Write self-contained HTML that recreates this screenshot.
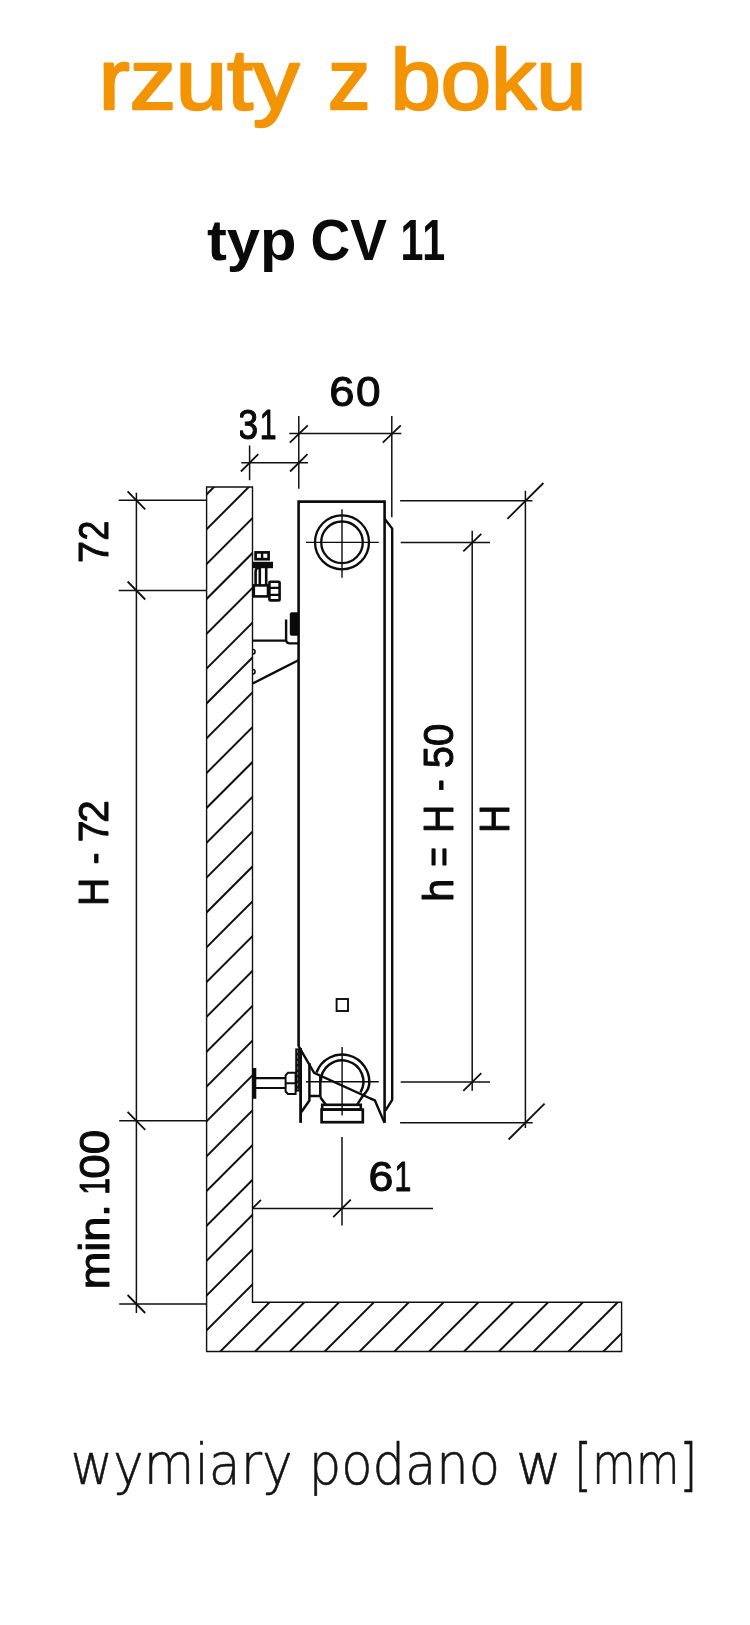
<!DOCTYPE html>
<html lang="pl"><head><meta charset="utf-8"><title>rzuty z boku - typ CV 11</title>
<style>html,body{margin:0;padding:0;background:#fff}svg{display:block}</style></head>
<body>
<svg width="750" height="1625" viewBox="0 0 750 1625">
<defs>
<clipPath id="wallclip"><path d="M206.6 487H252.5V1302.2H621.6V1351.5H206.6Z"/></clipPath>
<clipPath id="c31"><rect x="240" y="380" width="60" height="80"/></clipPath>
</defs>
<rect width="750" height="1625" fill="#fff"/>
<g opacity="0.999">
<g font-family='"Liberation Sans", sans-serif' font-size="85.5" font-weight="400" fill="#f39405" stroke="#f39405" stroke-width="2.5" stroke-linejoin="round"><text transform="translate(98.87 108.95) scale(1.0813 1)">rzuty</text> <text transform="translate(328.02 108.95) scale(0.9921 1)">z</text> <text transform="translate(390.57 108.95) scale(1.0565 1)">boku</text></g>
<g font-family='"Liberation Sans", sans-serif' font-size="57.4" font-weight="700" fill="#0a0a0a"><text transform="translate(206.96 260.20) scale(1.0410 1)">typ</text> <text transform="translate(310.48 260.20) scale(0.9584 1)">CV</text> <text transform="translate(400.60 260.20) scale(0.7200 1)">1</text> <text transform="translate(422.30 260.20) scale(0.7200 1)">1</text></g>
<g font-family='"DejaVu Sans Light", "DejaVu Sans", "Liberation Sans", sans-serif' font-size="57.6" font-weight="200" fill="#141414" stroke="#141414" stroke-width="0.6" stroke-linejoin="round"><text transform="translate(70.49 1483.50) scale(0.9025 1)">wymiary</text> <text transform="translate(308.67 1483.50) scale(0.8888 1)">podano</text> <text transform="translate(515.75 1483.50) scale(0.9800 1)">w</text> <text transform="translate(574.31 1483.50) scale(0.7821 1)">[mm]</text></g>
<g font-family='"Liberation Sans", sans-serif' font-size="42" font-weight="400" fill="#0a0a0a" stroke="#0a0a0a" stroke-width="1.0" stroke-linejoin="round"><text transform="translate(329.34 406.00) scale(1.0800 1)">6</text> <text transform="translate(356.05 406.00) scale(1.0524 1)">0</text></g>
<g clip-path="url(#c31)" font-family='"Liberation Sans", sans-serif' font-size="42" font-weight="400" fill="#0a0a0a" stroke="#0a0a0a" stroke-width="1.0" stroke-linejoin="round"><text transform="translate(237.72 439.40) scale(0.8762 1)">3</text> <text transform="translate(259.78 439.40) scale(0.7200 1)">1</text></g>
<g font-family='"Liberation Sans", sans-serif' font-size="42" font-weight="400" fill="#0a0a0a" stroke="#0a0a0a" stroke-width="1.0" stroke-linejoin="round"><text transform="translate(368.57 1191.00) scale(1.0650 1)">6</text> <text transform="translate(394.38 1191.00) scale(0.7200 1)">1</text></g>
<g font-family='"Liberation Sans", sans-serif' font-size="42" font-weight="400" fill="#0a0a0a" stroke="#0a0a0a" stroke-width="1.0" stroke-linejoin="round"><text transform="translate(108.40 562.89) rotate(-90) scale(0.9450 1)">7</text> <text transform="translate(108.40 540.60) rotate(-90) scale(0.8500 1)">2</text></g>
<g font-family='"Liberation Sans", sans-serif' font-size="42" font-weight="400" fill="#0a0a0a" stroke="#0a0a0a" stroke-width="1.0" stroke-linejoin="round"><text transform="translate(108.40 905.98) rotate(-90) scale(0.9280 1)">H</text> <text transform="translate(108.40 864.32) rotate(-90) scale(0.8250 1)">-</text> <text transform="translate(108.40 842.36) rotate(-90) scale(0.9300 1)">7</text> <text transform="translate(108.40 822.72) rotate(-90) scale(0.9600 1)">2</text></g>
<g font-family='"Liberation Sans", sans-serif' font-size="42" font-weight="400" fill="#0a0a0a" stroke="#0a0a0a" stroke-width="1.0" stroke-linejoin="round"><text transform="translate(109.20 1289.35) rotate(-90) scale(1.0743 1)">min.</text> <text transform="translate(109.20 1194.82) rotate(-90) scale(0.7200 1)">1</text> <text transform="translate(109.20 1178.65) rotate(-90) scale(1.0489 1)">00</text></g>
<g font-family='"Liberation Sans", sans-serif' font-size="42" font-weight="400" fill="#0a0a0a" stroke="#0a0a0a" stroke-width="1.0" stroke-linejoin="round"><text transform="translate(453.40 901.67) rotate(-90) scale(0.9842 1)">h</text> <text transform="translate(453.40 866.80) rotate(-90) scale(0.8000 1)">=</text> <text transform="translate(453.40 832.90) rotate(-90) scale(0.9320 1)">H</text> <text transform="translate(453.40 791.35) rotate(-90) scale(0.8500 1)">-</text> <text transform="translate(453.40 768.15) rotate(-90) scale(0.9533 1)">50</text></g>
<g font-family='"Liberation Sans", sans-serif' font-size="42" font-weight="400" fill="#0a0a0a" stroke="#0a0a0a" stroke-width="1.0" stroke-linejoin="round"><text transform="translate(509.20 832.90) rotate(-90) scale(0.9320 1)">H</text></g>
</g>
<g clip-path="url(#wallclip)"><path d="M150 551.0L700 1.0 M150 585.8L700 35.8 M150 620.7L700 70.7 M150 655.5L700 105.5 M150 690.3L700 140.3 M150 725.1L700 175.1 M150 760.0L700 210.0 M150 794.8L700 244.8 M150 829.6L700 279.6 M150 864.5L700 314.5 M150 899.3L700 349.3 M150 934.1L700 384.1 M150 969.0L700 419.0 M150 1003.8L700 453.8 M150 1038.6L700 488.6 M150 1073.4L700 523.4 M150 1108.3L700 558.3 M150 1143.1L700 593.1 M150 1177.9L700 627.9 M150 1212.8L700 662.8 M150 1247.6L700 697.6 M150 1282.4L700 732.4 M150 1317.3L700 767.3 M150 1352.1L700 802.1 M150 1386.9L700 836.9 M150 1421.8L700 871.8 M150 1456.6L700 906.6 M150 1491.4L700 941.4 M150 1526.2L700 976.2 M150 1561.1L700 1011.1 M150 1595.9L700 1045.9 M150 1630.7L700 1080.7 M150 1665.6L700 1115.6 M150 1700.4L700 1150.4 M150 1735.2L700 1185.2 M150 1770.0L700 1220.0 M150 1804.9L700 1254.9 M150 1839.7L700 1289.7" stroke="#111" stroke-width="2" fill="none"/></g>
<path d="M206.6 487H252.5V1302.2H621.6V1351.5H206.6Z" fill="none" stroke="#111" stroke-width="1.4"/>
<!-- dimension lines -->
<g stroke="#111" stroke-width="1.5" fill="none">
<path d="M289.3 433.4H401.3M298.8 416V488.8M391.8 416V517.2"/>
<path d="M241.3 462.8H308M249.6 445.5V480.2"/>
<path d="M136.4 492.7V1313M118.7 500.3H206.6M118.7 590.5H206.6M119.2 1120.8H206.6M119.2 1304H206.6"/>
<path d="M400.7 542.5H490M400.7 1081.9H490M472.2 530.7V1090.7"/>
<path d="M400.1 500.8H532.4M400.1 1122.7H532.7M525.4 490.7V1128"/>
<path d="M252.5 1208.4H433M342 1137V1225.6"/>
</g>
<g stroke="#111" stroke-width="1.8" fill="none">
<path d="M289.8 442.7L307.8 425.3M382.8 442.7L400.8 425.3"/>
<path d="M240.9 471.5L258.3 454.1M290.1 471.5L307.5 454.1"/>
<path d="M127.6 491.3L145.2 509.3M127.6 581.5L145.2 599.5M127.6 1111.8L145.2 1129.8M127.6 1295L145.2 1313"/>
<path d="M463.3 551.4L481.3 533.8M463.3 1090.8L481.3 1073.2"/>
<path d="M507.4 518.8L543.4 483M508.6 1139.5L544.6 1103.7"/>
<path d="M333.2 1217.1L350.8 1199.7M252.5 1208.4L261 1199.8"/>
</g>
<!-- radiator body -->
<g stroke="#0c0c0c" fill="none" stroke-linejoin="miter">
<path d="M298.6 1046.5V501.6H384.6V1122.7" stroke-width="2.6"/>
<path d="M384.6 518.8L392.2 528.6V1099.8L385.4 1110.6" stroke-width="2.4"/>
<path d="M298.6 1046.2L314.1 1072.9L374.9 1100.5L384.5 1122.9" stroke-width="2.4"/>
<rect x="336.6" y="999" width="11.4" height="12" stroke-width="1.9"/>
<!-- top pipe -->
<circle cx="342" cy="542.3" r="27" stroke-width="2.3"/>
<circle cx="342" cy="542.3" r="20.8" stroke-width="2.3"/>
<path d="M306 542.4H378.8M342 509.2V577.8" stroke-width="1.4"/>
<!-- bottom pipe -->
<path d="M316.5 1072.5A27.2 27.2 0 0 1 369 1085.6Q368 1091 363.5 1094.9L357.3 1104.4M320.3 1097.3L325.8 1104.7" stroke-width="2.5"/>
<path d="M320.8 1081.8A21.3 21.3 0 1 1 360.5 1092.4" stroke-width="2.5"/>
<path d="M306 1081.8H378.8M342.1 1047.1V1115.4" stroke-width="1.4"/>
<rect x="322.2" y="1104.8" width="38.6" height="4.8" stroke-width="2.6"/>
<rect x="321.6" y="1109.6" width="41.2" height="12.6" stroke-width="2.7"/>
<!-- neck / cone -->
<path d="M309.4 1063V1100.5L301.4 1112M309.4 1096H320.3V1075.5" stroke-width="2.5"/>
<!-- plate -->
<path d="M300.6 1048V1122.9" stroke-width="2.8"/>
<rect x="295.2" y="1048.4" width="4.6" height="43.2" fill="#111" stroke="none"/>
<path d="M297.6 1050V1090" stroke="#777" stroke-width="0.9" stroke-dasharray="3 2.5"/>
<!-- nut and bolt -->
<path d="M288 1072.8H295.6V1094H288L285.6 1091.5V1075.3ZM285.6 1083.3H295.6" stroke-width="2"/>
<path d="M256 1078.2H285.6M256 1088H285.6" stroke-width="2.2"/>
<path d="M254.6 1068V1098.8" stroke-width="3.4"/>
</g>
<!-- upper bracket -->
<g stroke="#0c0c0c" fill="none" stroke-width="2.4">
<path d="M252.7 640.6H286.1M286.1 619.6V639.5Q286.1 643.4 290 643.4H298.6"/>
<path d="M252.7 683.5L298.4 660.2"/>
<rect x="289.8" y="612.2" width="9.4" height="23.6" rx="2" fill="#0a0a0a" stroke="none"/>
<path d="M252.9 649.6A2.2 2.2 0 1 1 252.9 654M252.9 669.5A2.2 2.2 0 1 1 252.9 673.9" stroke-width="1.5"/>
<!-- air vent valve -->
<rect x="255.6" y="552.4" width="13" height="6.8" stroke-width="2.7"/>
<path d="M262.1 552V559" stroke-width="2.4"/>
<rect x="253.4" y="562.6" width="18.8" height="4.8" stroke-width="1.6" fill="#0c0c0c"/>
<path d="M255.6 585V572Q255.6 567.6 259 567.6M259.8 567.6V585M266.2 567.6V585" stroke-width="2.6"/>
<rect x="253.8" y="585.4" width="14.2" height="11" stroke-width="2.6"/>
<rect x="269.4" y="581.8" width="10.2" height="18.6" rx="1" stroke-width="2.6"/>
<path d="M269.2 587.8H279.6M269.2 594.8H279.6" stroke-width="2.2"/>
</g>

</svg>
</body></html>
